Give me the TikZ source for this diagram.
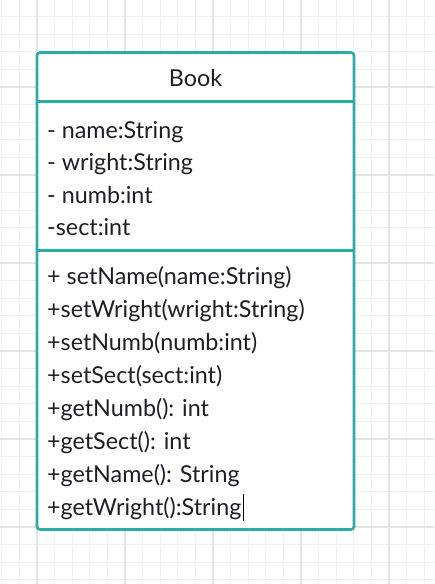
\documentclass[tikz,border=0pt]{standalone}
\usepackage{fontspec}
\setmainfont{Lato}
\definecolor{teal1}{HTML}{2EABA6}
\definecolor{gridminor}{HTML}{F0F0F0}
\definecolor{gridmajor}{HTML}{E4E4E4}
\definecolor{txt}{HTML}{1E1E2A}
\tikzset{
  umltext/.style={anchor=base west, inner sep=0pt, text=txt, font=\fontsize{23.3}{26}\selectfont},
  umlbox/.style={draw=teal1, line width=2.6pt, rounded corners=3pt},
  umlline/.style={draw=teal1, line width=2.6pt},
}
\begin{document}
\begin{tikzpicture}[x=1pt,y=-1pt]
\useasboundingbox (0,0) rectangle (434,584);
\fill[white] (0,0) rectangle (434,584);
% minor grid
\foreach \i in {-2,...,24} {
  \draw[gridminor, line width=1pt] ({37+17.6*\i},0) -- ({37+17.6*\i},584);
}
\foreach \i in {-1,...,33} {
  \draw[gridminor, line width=1pt] (0,{-1+17.6*\i}) -- (434,{-1+17.6*\i});
}
% major grid
\foreach \i in {0,...,4} {
  \draw[gridmajor, line width=1.4pt] ({37+88*\i},0) -- ({37+88*\i},584);
}
\foreach \i in {1,...,6} {
  \draw[gridmajor, line width=1.4pt] (0,{-1+88*\i}) -- (434,{-1+88*\i});
}
% class box
\fill[white, rounded corners=3pt] (37,52.5) rectangle (354,529.5);
\draw[umlbox] (37,52.5) rectangle (354,529.5);
\coordinate (d1l) at (37,101.5);
\coordinate (d1r) at (354,101.5);
\coordinate (d2l) at (37,250.5);
\coordinate (d2r) at (354,250.5);
\draw[umlline] (d1l) -- (d1r);
\draw[umlline] (d2l) -- (d2r);
% title
\node[anchor=base, inner sep=0pt, text=txt, font=\fontsize{23.3}{26}\selectfont] (title) at (195.5,86) {Book};
% attributes
\node[umltext] (a1) at (47,138) {- name:String};
\node[umltext] (a2) at (47,170.5) {- wright:String};
\node[umltext] (a3) at (47,203) {- numb:int};
\node[umltext] (a4) at (47,235.5) {-sect:int};
% methods
\node[umltext] (m1) at (47,284) {+ setName(name:String)};
\node[umltext] (m2) at (47,317) {+setWright(wright:String)};
\node[umltext] (m3) at (47,350) {+setNumb(numb:int)};
\node[umltext] (m4) at (47,383) {+setSect(sect:int)};
\node[umltext] (m5) at (47,416) {+getNumb(): int};
\node[umltext] (m6) at (47,449) {+getSect(): int};
\node[umltext] (m7) at (47,482) {+getName(): String};
\node[umltext] (m8) at (47,515) {+getWright():String};
% text cursor
\draw[black, line width=1pt] ([xshift=1.5pt]m8.base east) ++(0,6) -- ++(0,-27);
\end{tikzpicture}
\end{document}
